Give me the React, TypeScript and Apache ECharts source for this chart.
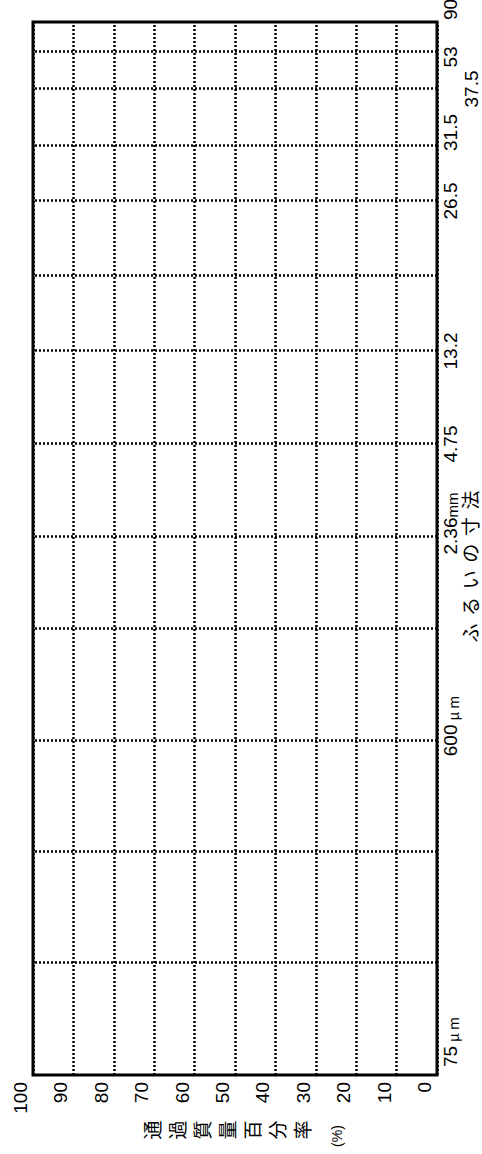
import React, { useEffect, useRef } from "react";
import * as echarts from "echarts";

// Sieve sizes (x axis of the original chart, drawn rotated) and their place on the chart's own sieve scale
const sieveTickText = ["75μm", "", "", "600μm", "", "2.36mm", "4.75", "13.2", "", "26.5", "31.5", "37.5", "53", "90"];
const sieveSizes = ["75μm", "150μm", "300μm", "600μm", "1.18mm", "2.36mm", "4.75mm", "13.2mm", "19mm", "26.5mm", "31.5mm", "37.5mm", "53mm", "90mm"];
const sieveScale = [0, 112, 223, 334, 446, 538, 631, 724, 799, 874, 929, 986, 1023, 1053];

// Percent passing axis
const percentMin = 0;
const percentMax = 100;
const percentStep = 10;

const yAxisName = "通過質量百分率";
const yAxisUnit = "(%)";
const xAxisName = "ふるいの寸法";

// rich style key per sieve tick label (layout only)
const labelStyleKey: Record<number, string> = {
  0: "first",
  3: "c600",
  5: "c236",
  10: "lft",
  11: "low",
  12: "r53",
  13: "last",
};

const LATIN = "'Liberation Sans Narrow', 'Arial Narrow', 'Liberation Sans', Arial, sans-serif";
const CJK = "'Noto Sans CJK JP', 'Noto Sans CJK SC', sans-serif";

export default function App() {
  const ref = useRef<HTMLDivElement>(null);

  useEffect(() => {
    if (!ref.current) return;
    const chart = echarts.init(ref.current, undefined, { renderer: "svg", width: 1154, height: 482 });

    const numBase = { fontSize: 19, fontFamily: LATIN, color: "#000" };
    const xLabelValues = sieveScale.filter((_, i) => sieveTickText[i] !== "");

    const option: any = {
      animation: false,
      backgroundColor: "#fff",
      textStyle: { fontFamily: LATIN, color: "#000" },
      grid: {
        left: 79,
        right: 22,
        top: 33,
        bottom: 45,
        show: true,
        borderColor: "#000",
        borderWidth: 3,
        backgroundColor: "transparent",
        containLabel: false,
        outerBoundsMode: "none",
      },
      xAxis: {
        type: "value",
        min: sieveScale[0],
        max: sieveScale[sieveScale.length - 1],
        axisLine: { show: false },
        axisTick: { show: false },
        splitLine: { show: false },
        axisLabel: {
          show: true,
          customValues: xLabelValues,
          hideOverlap: false,
          margin: 4,
          alignMinLabel: "left",
          alignMaxLabel: "left",
          color: "#000",
          formatter: (value: number) => {
            const i = sieveScale.indexOf(value);
            const t = i >= 0 ? sieveTickText[i] : "";
            if (!t) return "";
            const m = /^([\d.]+)(μm|mm)?$/.exec(t);
            if (!m) return t;
            const key = labelStyleKey[i] || "n";
            let s = `{${key}|${m[1]}}`;
            if (m[2] === "μm") s += "{mu|μ}{um|m}";
            else if (m[2] === "mm") s += "{mm|mm}";
            return s;
          },
          rich: {
            n: { ...numBase },
            first: { ...numBase, padding: [0, 0, 0, 8] },
            c600: { ...numBase, padding: [0, 0, 0, 30] },
            c236: { ...numBase, padding: [0, 0, 0, 27] },
            lft: { ...numBase, padding: [0, 0, 0, 27] },
            low: { ...numBase, padding: [21, 0, 0, 0] },
            r53: { ...numBase, padding: [0, 10, 0, 0] },
            last: { ...numBase, padding: [0, 0, 0, 2] },
            mu: { fontSize: 14, fontFamily: CJK, color: "#000", padding: [0, 0, 0, 4], verticalAlign: "bottom" },
            um: { fontSize: 14, fontFamily: CJK, color: "#000", padding: [0, 0, 0, 3], verticalAlign: "bottom" },
            mm: { fontSize: 15, fontFamily: LATIN, color: "#000", verticalAlign: "bottom" },
          },
        },
        name: xAxisName.split("").map((c) => `{c|${c}}`).join(""),
        nameLocation: "middle",
        nameGap: 32,
        nameMoveOverlap: false,
        nameTextStyle: {
          align: "center",
          verticalAlign: "middle",
          padding: [0, 36, 0, 0],
          rich: {
            c: { fontSize: 19, fontFamily: CJK, color: "#000", padding: [0, 3.8, 0, 3.8] },
          },
        },
      },
      yAxis: {
        type: "value",
        min: percentMin,
        max: percentMax,
        interval: percentStep,
        axisLine: { show: false },
        axisTick: { show: false },
        splitLine: {
          show: true,
          lineStyle: { color: "#000", width: 2.5, type: [2, 2] },
        },
        axisLabel: {
          fontSize: 19,
          fontFamily: LATIN,
          color: "#000",
          margin: 7,
          verticalAlign: "bottom",
          padding: [0, 0, 3, 0],
          hideOverlap: false,
        },
        name: yAxisName.split("").join("\n") + `\n{p|${yAxisUnit}}`,
        nameLocation: "middle",
        nameRotate: 0,
        nameGap: 55,
        nameMoveOverlap: false,
        nameTextStyle: {
          fontSize: 19,
          lineHeight: 25,
          fontFamily: CJK,
          color: "#000",
          align: "center",
          verticalAlign: "middle",
          padding: [29, 0, 0, 0],
          rich: {
            p: { fontSize: 14, lineHeight: 47, fontFamily: LATIN, color: "#000", padding: [0, 12, 0, 0] },
          },
        },
      },
      series: [
        {
          type: "line",
          name: "sieves",
          data: [],
          silent: true,
          markLine: {
            silent: true,
            symbol: ["none", "none"],
            label: { show: false },
            emphasis: { disabled: true },
            lineStyle: { color: "#000", width: 2.5, type: [2, 2], opacity: 1 },
            data: sieveScale.slice(1, -1).map((v, i) => ({ name: sieveSizes[i + 1], xAxis: v })),
          },
        },
      ],
    };

    chart.setOption(option);
    return () => chart.dispose();
  }, []);

  return (
    <div
      style={{
        position: "fixed",
        left: 0,
        top: 0,
        width: 482,
        height: 1154,
        overflow: "hidden",
        background: "#fff",
      }}
    >
      <div
        ref={ref}
        style={{
          position: "absolute",
          left: 0,
          top: 0,
          width: 1154,
          height: 482,
          transformOrigin: "0 0",
          transform: "translate(0px, 1154px) rotate(-90deg)",
        }}
      />
    </div>
  );
}
